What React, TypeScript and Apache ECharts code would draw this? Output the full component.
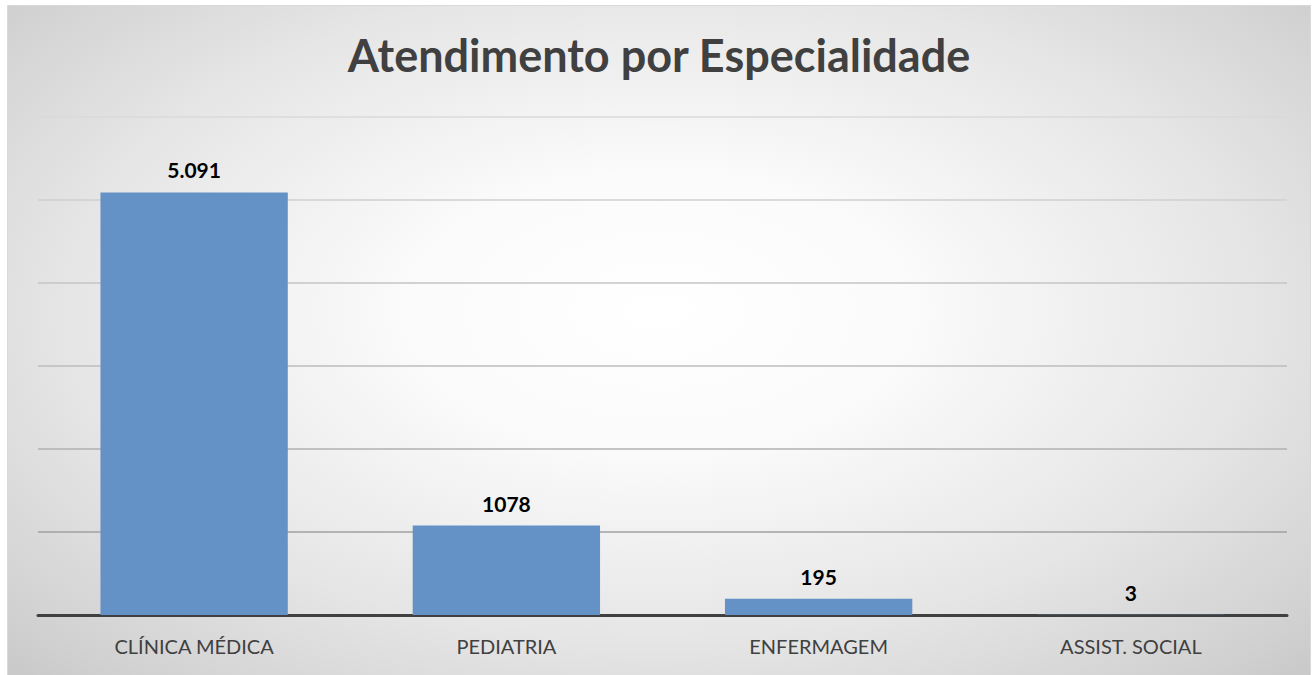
import React, { useEffect, useRef } from "react";
import * as echarts from "echarts";

const categories = ["CLÍNICA MÉDICA", "PEDIATRIA", "ENFERMAGEM", "ASSIST. SOCIAL"];
const values = [5091, 1078, 195, 3];
const valueLabels = ["5.091", "1078", "195", "3"];
const titleText = "Atendimento por Especialidade";

export default function App() {
  const ref = useRef<HTMLDivElement>(null);
  useEffect(() => {
    document.body.style.margin = "0";
    const chart = echarts.init(ref.current!, null, { renderer: "svg" });
    chart.setOption({
      animation: false,
      backgroundColor: "transparent",
      title: {
        text: titleText,
        left: "center",
        top: 21,
        textStyle: {
          fontFamily: "Lato",
          fontWeight: "bold",
          fontSize: 45,
          color: "#404040",
        },
      },
      grid: { left: 30, right: 23, top: 111, bottom: 69 },
      xAxis: {
        type: "category",
        data: categories,
        axisTick: { show: false },
        axisLine: { lineStyle: { color: "#404040", width: 3 } },
        axisLabel: {
          color: "#404040",
          fontFamily: "Lato",
          fontSize: 20,
          margin: 21,
        },
      },
      yAxis: {
        type: "value",
        min: 0,
        max: 6000,
        interval: 1000,
        axisLabel: { show: false },
        axisLine: { show: false },
        axisTick: { show: false },
        splitLine: {
          lineStyle: {
            color: ["#999999", "#a0a0a0", "#b0b0b0", "#bcbcbc", "#c4c4c4", "#cfcfcf", "#dadada"],
            width: 1.5,
          },
        },
      },
      series: [
        {
          type: "bar",
          data: values,
          barWidth: "60%",
          itemStyle: {
            color: "#6592c6",
          },
          label: {
            show: true,
            position: "top",
            distance: 12,
            color: "#000000",
            fontFamily: "Lato",
            fontWeight: "bold",
            fontSize: 21,
            formatter: (p: any) => valueLabels[p.dataIndex],
          },
        },
      ],
    });
    return () => chart.dispose();
  }, []);
  return (
    <div style={{ position: "relative", width: 1314, height: 675, overflow: "hidden", background: "#ffffff" }}>
      <div
        ref={ref}
        style={{
          position: "absolute",
          left: 7,
          top: 5,
          width: 1304,
          height: 680,
          boxSizing: "border-box",
          border: "1px solid #d9d9d9",
          background:
            "radial-gradient(ellipse 75% 80% at 50% 45%, #ffffff 0%, #fbfbfb 25%, #e6e6e6 60%, #d2d2d2 85%, #c4c4c4 100%)",
        }}
      />
    </div>
  );
}
